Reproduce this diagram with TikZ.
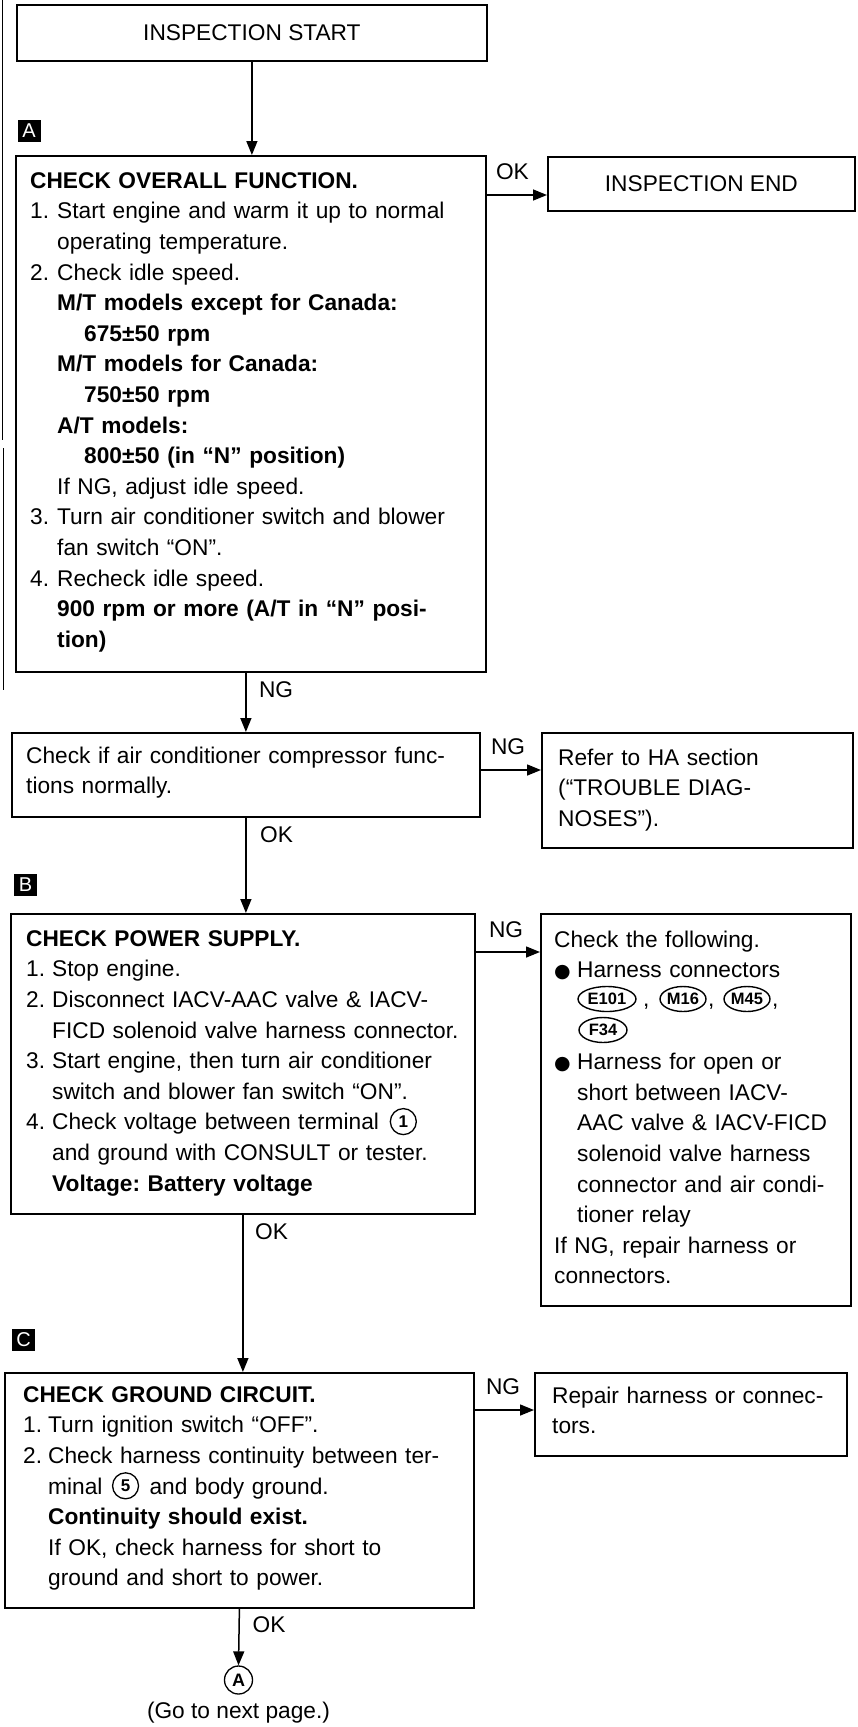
\documentclass[tikz,border=0pt]{standalone}
\usepackage{fontspec}
\setmainfont{Liberation Sans}
\newfontfamily\djv{DejaVu Sans}
\usetikzlibrary{arrows.meta,shapes.geometric,calc}
\newcommand{\bodysize}{\fontsize{22.7}{30.6}\selectfont\frenchspacing}
\newlength{\hangw}
\newlength{\wone}
\newlength{\wfive}
\newcommand{\nm}[1]{\makebox[\hangw][l]{#1}}
\newcommand{\ii}{\hspace*{\hangw}}
\newcommand{\bul}{\makebox[\hangw][l]{\djv\fontsize{19}{19}\selectfont ●}}
\tikzset{
  box/.style={draw, line width=1.8pt, rectangle, inner sep=0pt, anchor=north west},
  txt/.style={anchor=north west, inner sep=0pt, align=left, text width=#1},
  lab/.style={inner sep=0pt, anchor=west},
  arr/.style={line width=1.5pt, -{Triangle[length=14pt,width=11pt]}},
  marker/.style={fill=black, text=white, inner sep=0pt, minimum width=23pt, minimum height=22pt, font=\fontsize{20}{20}\selectfont},
  conn/.style={ellipse, draw, line width=1.4pt, inner sep=0pt, minimum height=25pt, font=\bfseries\fontsize{16.5}{16.5}\selectfont},
  circnum/.style={circle, draw, line width=1.3pt, inner sep=0pt, minimum size=26pt, font=\bfseries\fontsize{17}{17}\selectfont},
}
\begin{document}
\settowidth{\wone}{\bodysize Check voltage between terminal\ }%
\settowidth{\wfive}{\bodysize minal\ }%
\begin{tikzpicture}[x=1pt, y=-1pt, font=\bodysize]
\useasboundingbox (0,0) rectangle (857,1727);
% scan artefacts at left edge
\draw[line width=1pt] (2,0) -- (2,440);
\draw[line width=1pt] (3,448) -- (3,690);

% start / end
\node[box, minimum width=470pt, minimum height=56pt] (start) at (16,4) {INSPECTION START};
\node[box, minimum width=307pt, minimum height=54pt] (endb) at (547,156) {INSPECTION END};

% marker A and box A
\node[marker] (mA) at (29,131) {A};
\node[box, minimum width=470pt, minimum height=516pt] (boxA) at (15,155) {};
\node[txt=450pt] (tA) at ($(boxA.north west)+(15,13)$) {\setlength{\hangw}{27pt}\noindent\rule{0pt}{20pt}\textbf{CHECK OVERALL FUNCTION.}\\
\nm{1.}Start engine and warm it up to normal\\
\ii operating temperature.\\
\nm{2.}Check idle speed.\\
\ii\textbf{M/T models except for Canada:}\\
\ii\ii\textbf{675±50 rpm}\\
\ii\textbf{M/T models for Canada:}\\
\ii\ii\textbf{750±50 rpm}\\
\ii\textbf{A/T models:}\\
\ii\ii\textbf{800±50 (in “N” position)}\\
\ii If NG, adjust idle speed.\\
\nm{3.}Turn air conditioner switch and blower\\
\ii fan switch “ON”.\\
\nm{4.}Recheck idle speed.\\
\ii\textbf{900 rpm or more (A/T in “N” posi-}\\
\ii\textbf{tion)}};

% compressor box and HA box
\node[box, minimum width=468pt, minimum height=84pt] (box2) at (11,732) {};
\node[txt=450pt] (t2) at ($(box2.north west)+(15,11)$) {\noindent\rule{0pt}{20pt}Check if air conditioner compressor func-\\
tions normally.};
\node[box, minimum width=311pt, minimum height=115pt] (ha) at (541,732) {};
\node[txt=290pt] (tha) at ($(ha.north west)+(17,13)$) {\noindent\rule{0pt}{20pt}Refer to HA section\\
(“TROUBLE DIAG-\\
NOSES”).};

% marker B, box B and check-the-following box
\node[marker] (mB) at (25.5,885) {B};
\node[box, minimum width=464pt, minimum height=300pt] (boxB) at (10,913) {};
\node[txt=450pt] (tB) at ($(boxB.north west)+(16,13)$) {\setlength{\hangw}{26pt}\noindent\rule{0pt}{20pt}\textbf{CHECK POWER SUPPLY.}\\
\nm{1.}Stop engine.\\
\nm{2.}Disconnect IACV-AAC valve \& IACV-\\
\ii FICD solenoid valve harness connector.\\
\nm{3.}Start engine, then turn air conditioner\\
\ii switch and blower fan switch “ON”.\\
\nm{4.}Check voltage between terminal\ \hspace{36pt}\\
\ii and ground with CONSULT or tester.\\
\ii\textbf{Voltage: Battery voltage}};
\node[circnum] (n1) at ($(tB.north west)+(26pt+\wone+22pt,-203.6pt+8pt)$) {1};
\node[box, minimum width=310pt, minimum height=392pt] (chk) at (540,913) {};
\node[txt=295pt] (tchk) at ($(chk.north west)+(14,14)$) {\setlength{\hangw}{23pt}\noindent\rule{0pt}{20pt}Check the following.\\
\bul Harness connectors\\
\mbox{}\\
\mbox{}\\
\bul Harness for open or\\
\ii short between IACV-\\
\ii AAC valve \& IACV-FICD\\
\ii solenoid valve harness\\
\ii connector and air condi-\\
\ii tioner relay\\
If NG, repair harness or\\
connectors.};
\node[conn, minimum width=58pt] (e101) at (607,999) {E101};
\node[inner sep=0pt, anchor=base west] (c1) at (643,1006) {,};
\node[conn, minimum width=46pt] (m16) at (683,999) {M16};
\node[inner sep=0pt, anchor=base west] (c2) at (708,1006) {,};
\node[conn, minimum width=46pt] (m45) at (747,999) {M45};
\node[inner sep=0pt, anchor=base west] (c3) at (772,1006) {,};
\node[conn, minimum width=48pt] (f34) at (603,1030) {F34};

% marker C, box C and repair box
\node[marker] (mC) at (23.5,1340) {C};
\node[box, minimum width=469pt, minimum height=235pt] (boxC) at (4,1372) {};
\node[txt=450pt] (tC) at ($(boxC.north west)+(19,10)$) {\setlength{\hangw}{25pt}\noindent\rule{0pt}{20pt}\textbf{CHECK GROUND CIRCUIT.}\\
\nm{1.}Turn ignition switch “OFF”.\\
\nm{2.}Check harness continuity between ter-\\
\ii minal\ \hspace{32pt} and body ground.\\
\ii\textbf{Continuity should exist.}\\
\ii If OK, check harness for short to\\
\ii ground and short to power.};
\node[circnum] (n5) at ($(tC.north west)+(25pt+\wfive+17pt,-111.8pt+8pt)$) {5};
\node[box, minimum width=312pt, minimum height=83pt] (rep) at (534,1372) {};
\node[txt=295pt] (trep) at ($(rep.north west)+(18,11)$) {\noindent\rule{0pt}{20pt}Repair harness or connec-\\
tors.};

% continuation
\node[circle, draw, line width=1.3pt, inner sep=0pt, minimum size=28pt, font=\bfseries\fontsize{18}{18}\selectfont] (goA) at (238.5,1680) {A};
\node[inner sep=0pt] (next) at (238.5,1713) {(Go to next page.)};

% vertical connectors
\draw[arr] (start.south) -- (start.south |- boxA.north);
\draw[arr] (box2.north |- boxA.south) -- (box2.north);
\draw[arr] (box2.south) -- (box2.south |- boxB.north);
\draw[arr] (boxB.south) -- (boxB.south |- boxC.north);
\draw[arr] (boxC.south) -- (goA.north);
\node[lab] (lA) at ($(box2.north |- boxA.south)+(13,17)$) {NG};
\node[lab] (l2) at ($(box2.south)+(14,17)$) {OK};
\node[lab] (lB) at ($(boxB.south)+(12,17)$) {OK};
\node[lab] (lC) at ($(boxC.south)+(13,16)$) {OK};

% horizontal connectors
\coordinate (hA) at ($(boxA.north east)+(0,40)$);
\draw[arr] (hA) -- (hA -| endb.west);
\node[lab] (okA) at ($(hA)+(9,-23)$) {OK};
\coordinate (h2) at ($(box2.north east)+(0,38)$);
\draw[arr] (h2) -- (h2 -| ha.west);
\node[lab] (ng2) at ($(h2)+(10,-23)$) {NG};
\coordinate (hB) at ($(boxB.north east)+(0,39)$);
\draw[arr] (hB) -- (hB -| chk.west);
\node[lab] (ngB) at ($(hB)+(13,-22)$) {NG};
\coordinate (hC) at ($(boxC.north east)+(0,38)$);
\draw[arr] (hC) -- (hC -| rep.west);
\node[lab] (ngC) at ($(hC)+(11,-23)$) {NG};
\end{tikzpicture}
\end{document}
